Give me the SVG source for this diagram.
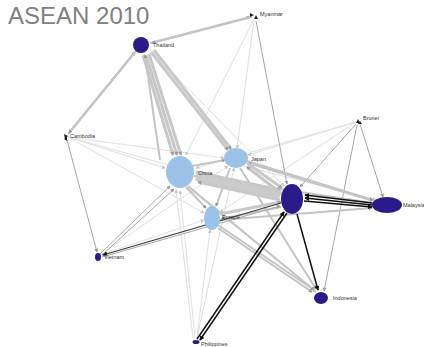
<svg xmlns="http://www.w3.org/2000/svg" width="424" height="347" viewBox="0 0 424 347">
  <defs>
    <marker id="ag" viewBox="0 0 6 6" refX="5" refY="3" markerWidth="4" markerHeight="4" markerUnits="userSpaceOnUse" orient="auto">
      <path d="M0,0 L6,3 L0,6 z" fill="#9a9a9a"/>
    </marker>
    <marker id="ak" viewBox="0 0 6 6" refX="5" refY="3" markerWidth="5" markerHeight="5" markerUnits="userSpaceOnUse" orient="auto">
      <path d="M0,0 L6,3 L0,6 z" fill="#111"/>
    </marker>
    <marker id="al" viewBox="0 0 6 6" refX="5" refY="3" markerWidth="4" markerHeight="4" markerUnits="userSpaceOnUse" orient="auto">
      <path d="M0,0 L6,3 L0,6 z" fill="#c8c8c8"/>
    </marker>
  </defs>
  <style>
    .title { font-family: "Liberation Sans", Arial, sans-serif; font-size: 24px; fill: #808080; }
    .lbl { font-family: "Liberation Sans", Arial, sans-serif; font-size: 5.5px; fill: #333; }
    .asean { fill: #2b1b8a; }
    .partner { fill: #9cc3e7; }
    .tip { fill: #222; }
    .faint { stroke: #e0e0e0; stroke-width: 1; fill: none; marker-end: url(#al); }
    .thin { stroke: #a8a8a8; stroke-width: 1; fill: none; marker-end: url(#ag); }
    .mid { stroke: #c4c4c4; stroke-width: 2; fill: none; marker-end: url(#ag); }
    .heavy { stroke: #c8c8c8; stroke-width: 3; fill: none; marker-end: url(#ag); }
    .band { stroke: #cbcbcb; stroke-width: 9; fill: none; }
    .dark { stroke: #3a3a3a; stroke-width: 1.2; fill: none; marker-end: url(#ak); }
    .black { stroke: #111; stroke-width: 1.5; fill: none; marker-end: url(#ak); }
  </style>
  <rect width="424" height="347" fill="#fff"/>
  <text class="title" x="8" y="24">ASEAN 2010</text>

  <g id="connectors">
    <!-- faint trade links -->
    <line class="faint" x1="68" y1="137" x2="165" y2="168"/>
    <line class="faint" x1="68" y1="137" x2="224" y2="158"/>
    <line class="faint" x1="68" y1="137" x2="204" y2="213"/>
    <line class="faint" x1="68" y1="137" x2="280" y2="196"/>
    <line class="faint" x1="254" y1="19" x2="186" y2="155"/>
    <line class="faint" x1="254" y1="19" x2="237" y2="148"/>
    <line class="faint" x1="356" y1="122" x2="248" y2="155"/>
    <line class="faint" x1="356" y1="122" x2="196" y2="168"/>
    <line class="faint" x1="356" y1="122" x2="220" y2="212"/>
    <line class="faint" x1="100" y1="255" x2="228" y2="166"/>
    <line class="faint" x1="100" y1="255" x2="204" y2="220"/>
    <line class="faint" x1="197" y1="338" x2="234" y2="168"/>
    <line class="faint" x1="197" y1="338" x2="210" y2="230"/>
    <line class="faint" x1="150" y1="50" x2="284" y2="186"/>
    <line class="faint" x1="188" y1="188" x2="316" y2="292"/>
    <line class="faint" x1="244" y1="166" x2="376" y2="200"/>

    <!-- medium grey links -->
    <line class="thin" x1="256" y1="21" x2="287" y2="184"/>
    <line class="thin" x1="356" y1="124" x2="300" y2="187"/>
    <line class="thin" x1="360" y1="124" x2="383" y2="197"/>
    <line class="thin" x1="357" y1="125" x2="324" y2="291"/>
    <line class="thin" x1="67" y1="140" x2="97" y2="252"/>
    <line class="faint" x1="195" y1="338" x2="180" y2="191"/>
    <line class="faint" x1="193" y1="338" x2="176" y2="190"/>
    <line class="thin" x1="100" y1="254" x2="170" y2="186"/>
    <line class="thin" x1="102" y1="255" x2="174" y2="189"/>

    <!-- heavier grey links -->
    <line class="mid" x1="150" y1="43" x2="250" y2="17"/>
    <line class="mid" x1="252" y1="17" x2="152" y2="43"/>
    <line class="mid" x1="68" y1="134" x2="135" y2="52"/>
    <line class="mid" x1="136" y1="51" x2="69" y2="133"/>
    <line class="heavy" x1="143" y1="55" x2="173" y2="155"/>
    <line class="heavy" x1="146" y1="55" x2="177" y2="155"/>
    <line class="heavy" x1="149" y1="54" x2="181" y2="155"/>
    <line class="heavy" x1="151" y1="52" x2="228" y2="150"/>
    <line class="heavy" x1="154" y1="50" x2="231" y2="149"/>
    <line class="mid" x1="160" y1="160" x2="145" y2="55"/>
    <line class="mid" x1="188" y1="186" x2="314" y2="290"/>
    <line class="mid" x1="240" y1="168" x2="316" y2="289"/>
    <line class="mid" x1="218" y1="228" x2="312" y2="292"/>
    <line class="mid" x1="215" y1="223" x2="314" y2="290"/>
    <line class="mid" x1="194" y1="176" x2="373" y2="203"/>
    <line class="mid" x1="247" y1="161" x2="373" y2="200"/>
    <line class="mid" x1="220" y1="220" x2="372" y2="208"/>
    <line class="mid" x1="370" y1="200" x2="248" y2="163"/>
    <line class="mid" x1="192" y1="166" x2="225" y2="160"/>
    <line class="mid" x1="186" y1="187" x2="206" y2="208"/>
    <line class="mid" x1="230" y1="168" x2="216" y2="206"/>
    <line class="band" x1="196" y1="176" x2="280" y2="195"/>
    <line class="heavy" x1="196" y1="172" x2="280" y2="190"/>
    <line class="heavy" x1="280" y1="200" x2="198" y2="182"/>
    <line class="heavy" x1="247" y1="163" x2="282" y2="188"/>
    <line class="heavy" x1="282" y1="194" x2="247" y2="167"/>
    <line class="heavy" x1="220" y1="214" x2="281" y2="202"/>
    <line class="mid" x1="281" y1="207" x2="221" y2="219"/>

    <!-- dark links -->
    <line class="dark" x1="281" y1="203" x2="103" y2="255"/>
    <line class="thin" x1="102" y1="257" x2="280" y2="206"/>
    <line class="black" x1="197" y1="339" x2="284" y2="212"/>
    <line class="black" x1="287" y1="213" x2="200" y2="340"/>
    <line class="black" x1="372" y1="203" x2="305" y2="195"/>
    <line class="black" x1="372" y1="205" x2="305" y2="198"/>
    <line class="black" x1="304" y1="201" x2="372" y2="207"/>
    <line class="black" x1="297" y1="214" x2="318" y2="290"/>
  </g>

  <g id="thailand"><circle class="asean" cx="141" cy="45" r="8"/><text class="lbl" x="153" y="47">Thailand</text></g>
  <g id="myanmar"><path class="tip" d="M250,13 l4,2 l-4,2 z M254,19 l2,-4 l2,4 z"/><text class="lbl" x="260" y="16">Myanmar</text></g>
  <g id="cambodia"><path class="tip" d="M64,134 l4,2 l-3,3 z M64,139 l3,-2 l0,4 z"/><text class="lbl" x="70" y="138">Cambodia</text></g>
  <g id="brunei"><path class="tip" d="M356,123 l2,-4 l2,4 z M358,124 l2,-3 l2,3 z"/><text class="lbl" x="363" y="120">Brunei</text></g>
  <g id="china"><ellipse class="partner" cx="180" cy="172" rx="14" ry="16"/><text class="lbl" x="198" y="175">China</text></g>
  <g id="japan"><ellipse class="partner" cx="236" cy="158" rx="12" ry="10"/><text class="lbl" x="251" y="161">Japan</text></g>
  <g id="europe"><ellipse class="partner" cx="212" cy="218" rx="8" ry="12"/><text class="lbl" x="222" y="219">Europe</text></g>
  <g id="singapore"><ellipse class="asean" cx="292" cy="199" rx="11" ry="15"/></g>
  <g id="malaysia"><ellipse class="asean" cx="387" cy="205" rx="15" ry="8"/><text class="lbl" x="403" y="207">Malaysia</text></g>
  <g id="indonesia"><ellipse class="asean" cx="321" cy="298" rx="7" ry="6"/><text class="lbl" x="333" y="300">Indonesia</text></g>
  <g id="vietnam"><ellipse class="asean" cx="98" cy="257" rx="3" ry="4"/><text class="lbl" x="104" y="259">Vietnam</text></g>
  <g id="philippines"><ellipse class="asean" cx="196" cy="342" rx="3.5" ry="2"/><text class="lbl" x="201" y="346">Philippines</text></g>
</svg>
